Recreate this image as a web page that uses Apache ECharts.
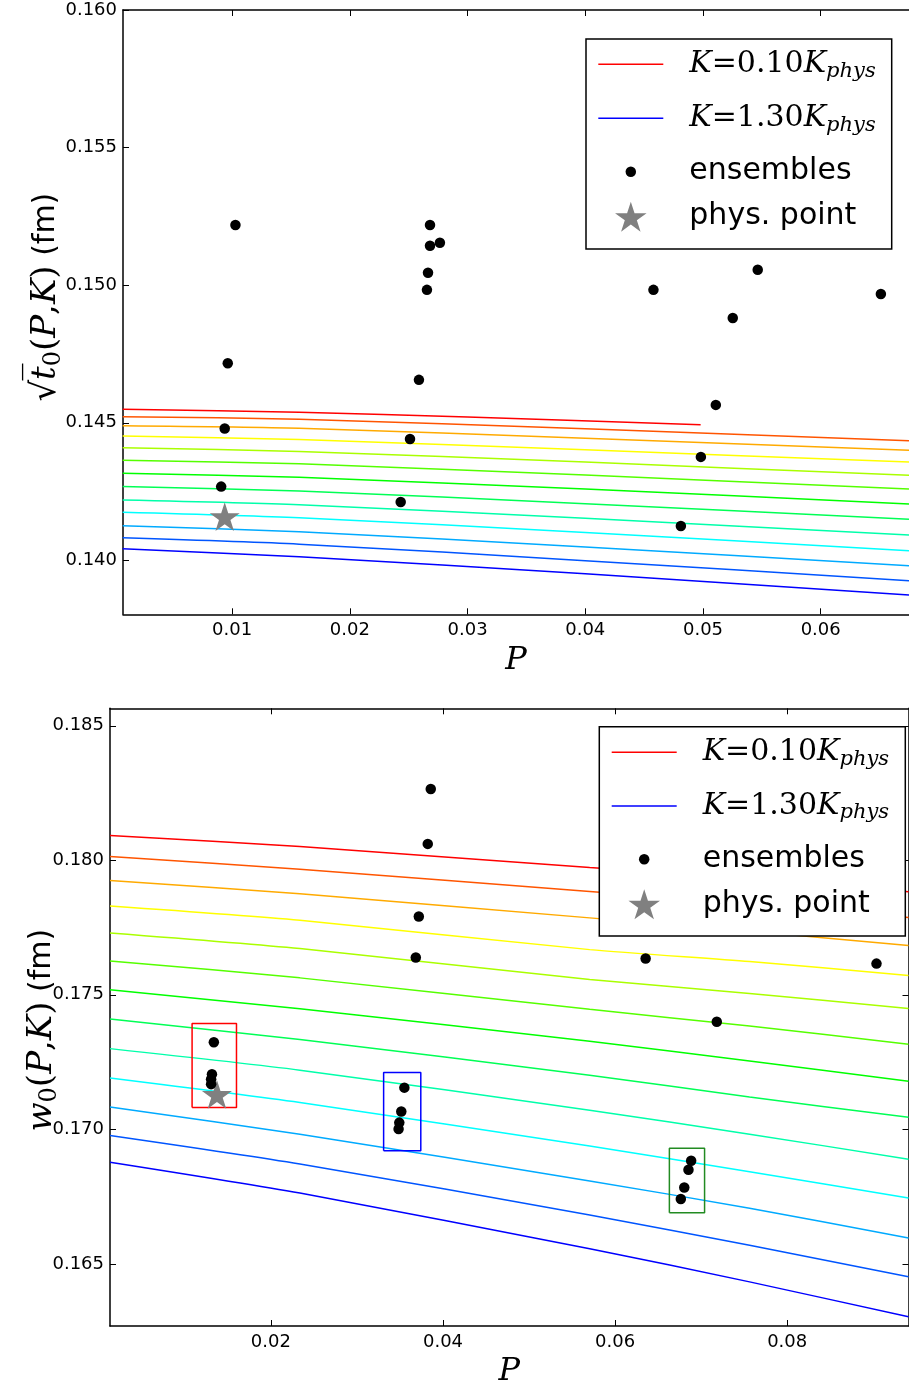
<!DOCTYPE html>
<html><head><meta charset="utf-8">
<script src="https://cdn.jsdelivr.net/npm/echarts@6/dist/echarts.min.js"></script>
<style>html,body{margin:0;padding:0;background:#fff}#c{width:909px;height:1389px}</style>
</head><body><div id="c"></div>
<script>
// ---------- data ----------
const kLabels = ['0.10','0.20','0.30','0.40','0.50','0.60','0.70','0.80','0.90','1.00','1.10','1.20','1.30'];
const lineColors = ['#ff0000','#ff5500','#ffaa00','#ffff00','#aaff00','#55ff00','#00ff00','#00ff55','#00ffaa','#00ffff','#00aaff','#0055ff','#0000ff'];

// top panel: sqrt(t0)
const topTicksX = [0.01,0.02,0.03,0.04,0.05,0.06];
const topTicksY = [0.140,0.145,0.150,0.155,0.160];
const topRedP = [0.0007, 0.0157, 0.030, 0.0498];
const topCurveP = [0.0007, 0.0157, 0.040, 0.0675];
const topCurveY = [
  [0.14549, 0.14538, 0.14521, 0.14493],
  [0.14522, 0.14513, 0.14478, 0.14435],
  [0.14489, 0.14480, 0.14444, 0.14400],
  [0.14452, 0.14439, 0.14402, 0.14357],
  [0.14409, 0.14396, 0.14357, 0.14309],
  [0.14364, 0.14351, 0.14310, 0.14259],
  [0.14317, 0.14302, 0.14259, 0.14205],
  [0.14268, 0.14252, 0.14206, 0.14149],
  [0.14219, 0.14202, 0.14153, 0.14092],
  [0.14175, 0.14155, 0.14101, 0.14035],
  [0.14126, 0.14104, 0.14049, 0.13980],
  [0.14082, 0.14059, 0.13999, 0.13926],
  [0.14042, 0.14013, 0.13951, 0.13874]
];
const topEnsP = [0.01028,0.00963,0.00937,0.00907,0.02432,0.02511,0.02587,0.02655,0.02664,0.02681,0.02681,0.02765,0.04579,0.04812,0.04982,0.05109,0.05253,0.05465,0.06511];
const topEnsY = [0.15219,0.14716,0.14479,0.14268,0.14212,0.14441,0.14656,0.14983,0.15045,0.15143,0.15219,0.15154,0.14983,0.14125,0.14376,0.14565,0.14881,0.15056,0.14968];
const topPhys = [0.00937, 0.14159];

// bottom panel: w0
const botTicksX = [0.02,0.04,0.06,0.08];
const botTicksY = [0.165,0.170,0.175,0.180,0.185];
const botCurveP = [0.0013, 0.02337, 0.05705, 0.07563, 0.0941];
const botCurveY = [
  [0.18092, 0.18051, 0.17973, 0.17932, 0.17883],
  [0.18014, 0.17967, 0.17884, 0.17839, 0.17787],
  [0.17925, 0.17876, 0.17786, 0.17737, 0.17683],
  [0.17830, 0.17777, 0.17668, 0.17624, 0.17572],
  [0.17730, 0.17672, 0.17557, 0.17505, 0.17449],
  [0.17626, 0.17563, 0.17446, 0.17384, 0.17316],
  [0.17519, 0.17448, 0.17327, 0.17254, 0.17179],
  [0.17410, 0.17334, 0.17201, 0.17120, 0.17045],
  [0.17300, 0.17220, 0.17071, 0.16982, 0.16889],
  [0.17191, 0.17100, 0.16938, 0.16842, 0.16745],
  [0.17083, 0.16982, 0.16808, 0.16707, 0.16596],
  [0.16977, 0.16871, 0.16682, 0.16569, 0.16452],
  [0.16878, 0.16763, 0.16556, 0.16433, 0.16303]
];
const botEnsP = [0.03858,0.03823,0.03719,0.03684,0.06355,0.09038,0.07182,0.01337,0.01315,0.01305,0.01305,0.03551,0.03515,0.03492,0.03484,0.06884,0.06853,0.06804,0.06764];
const botEnsY = [0.18265,0.18061,0.17791,0.17639,0.17635,0.17616,0.17400,0.17324,0.17205,0.17186,0.17168,0.17155,0.17066,0.17025,0.17001,0.16883,0.16850,0.16784,0.16741];
const botPhys = [0.01373, 0.17130];
const boxP0 = [0.01084, 0.03310, 0.06631];
const boxP1 = [0.01600, 0.03742, 0.07040];
const boxY0 = [0.17081, 0.16920, 0.16690];
const boxY1 = [0.17393, 0.17211, 0.16930];
const boxColors = ['#ff0000', '#0000ff', '#228b22'];

// ---------- styles ----------
const STAR = 'path://M100,0 L122.45,69.1 L195.11,69.1 L136.33,111.8 L158.78,180.9 L100,138.2 L41.22,180.9 L63.67,111.8 L4.89,69.1 L77.55,69.1 Z';
const SANS = 'DejaVu Sans';
const SERIF = 'DejaVu Serif';
const tickFont = {fontFamily: SANS, fontSize: 18, color: '#000'};
const mathRich = {
  it: {fontFamily: SERIF, fontStyle: 'italic', fontSize: 30, lineHeight: 40, color: '#000'},
  rm: {fontFamily: SERIF, fontSize: 30, lineHeight: 40, color: '#000'},
  sub: {fontFamily: SERIF, fontStyle: 'italic', fontSize: 21, lineHeight: 21, padding: [14, 0, 0, 0], color: '#000'},
  sf: {fontFamily: SANS, fontSize: 30, lineHeight: 40, color: '#000'}
};
const nameRich = {
  it: {fontFamily: SERIF, fontStyle: 'italic', fontSize: 34, lineHeight: 44, color: '#000'},
  rm: {fontFamily: SERIF, fontSize: 34, lineHeight: 44, color: '#000'},
  sub0: {fontFamily: SERIF, fontSize: 24, lineHeight: 24, padding: [16, 0, 0, 0], color: '#000'},
  sf: {fontFamily: SANS, fontSize: 30, lineHeight: 44, color: '#000'}
};
function kName(k) { return 'K=' + k + 'K_phys'; }
function legendText(name) {
  if (name.indexOf('K=') === 0) {
    const k = name.slice(2, name.indexOf('K_'));
    return '{it|K}{rm|=' + k + '}{it|K}{sub|phys}';
  }
  return '{sf|' + name + '}';
}

function xAxisPair(gi, min, max, ticks) {
  const common = {type: 'value', gridIndex: gi, min: min, max: max, splitLine: {show: false},
    axisLine: {show: true, onZero: false, lineStyle: {color: '#000', width: 1.5}}};
  return [
    Object.assign({}, common, {position: 'bottom',
      axisTick: {show: true, inside: true, length: 6, customValues: ticks, lineStyle: {color: '#000', width: 1}},
      axisLabel: Object.assign({customValues: ticks, margin: 7, formatter: v => v.toFixed(2)}, tickFont),
      name: '{it|P}', nameLocation: 'middle', nameGap: 30, nameMoveOverlap: false,
      nameTextStyle: {rich: {it: {fontFamily: SERIF, fontStyle: 'italic', fontSize: 32, color: '#000'}}}}),
    Object.assign({}, common, {position: 'top',
      axisTick: {show: true, inside: true, length: 6, customValues: ticks, lineStyle: {color: '#000', width: 1}},
      axisLabel: {show: false}})
  ];
}

const xAxes = [].concat(
  xAxisPair(0, 0.00073, 0.0675, topTicksX),
  xAxisPair(1, 0.0013, 0.0941, botTicksX)
);
const yAxes = [
  {type: 'value', gridIndex: 0, position: 'left', min: 0.13804, max: 0.160, splitLine: {show: false},
   axisLine: {show: true, lineStyle: {color: '#000', width: 1.5}},
   axisTick: {show: true, inside: true, length: 6, customValues: topTicksY, lineStyle: {color: '#000', width: 1}},
   axisLabel: Object.assign({customValues: topTicksY, margin: 6, formatter: v => v.toFixed(3)}, tickFont),
   name: '{rm|\u221A}{it|t\u0305}{sub0|0}{rm|(}{it|P}{rm|,}{it|K}{rm|)}{sf| (fm)}',
   nameLocation: 'middle', nameRotate: 90, nameGap: 55, nameMoveOverlap: false,
   nameTextStyle: {rich: nameRich, padding: [0, 0, 0, 30]}},
  {type: 'value', gridIndex: 1, position: 'left', min: 0.16269, max: 0.18565, splitLine: {show: false},
   axisLine: {show: true, lineStyle: {color: '#000', width: 1.5}},
   axisTick: {show: true, inside: true, length: 6, customValues: botTicksY, lineStyle: {color: '#000', width: 1}},
   axisLabel: Object.assign({customValues: botTicksY, margin: 6, formatter: v => v.toFixed(3)}, tickFont),
   name: '{it|w}{sub0|0}{rm|(}{it|P}{rm|,}{it|K}{rm|)}{sf| (fm)}',
   nameLocation: 'middle', nameRotate: 90, nameGap: 46, nameMoveOverlap: false,
   nameTextStyle: {rich: nameRich, padding: [0, 26, 0, 0]}},
  {type: 'value', gridIndex: 1, position: 'right', min: 0.16269, max: 0.18565, splitLine: {show: false},
   axisLine: {show: true, lineStyle: {color: '#000', width: 1.5}},
   axisTick: {show: true, inside: true, length: 6, customValues: botTicksY, lineStyle: {color: '#000', width: 1}},
   axisLabel: {show: false}}
];

const series = [];
function addCurves(pArr, curves, xi, yi, redP) {
  curves.forEach((ys, i) => {
    const ps = (i === 0 && redP) ? redP : pArr;
    series.push({type: 'line', name: kName(kLabels[i]), xAxisIndex: xi, yAxisIndex: yi,
      data: ps.map((p, j) => [p, ys[j]]), symbol: 'none', showSymbol: false,
      smooth: 0.25, silent: true, z: 2,
      lineStyle: {color: lineColors[i], width: 1.5}, itemStyle: {color: lineColors[i]}});
  });
}
addCurves(topCurveP, topCurveY, 0, 0, topRedP);
addCurves(botCurveP, botCurveY, 2, 1, null);

boxP0.forEach((x0, i) => {
  const x1 = boxP1[i], y0 = boxY0[i], y1 = boxY1[i];
  series.push({type: 'line', name: 'box' + i, xAxisIndex: 2, yAxisIndex: 1, symbol: 'none', silent: true, z: 3,
    data: [[x0, y0], [x1, y0], [x1, y1], [x0, y1], [x0, y0]],
    lineStyle: {color: boxColors[i], width: 1.5}, itemStyle: {color: boxColors[i]}});
});

function addPoints(ensP, ensY, phys, xi, yi) {
  series.push({type: 'scatter', name: 'phys. point', xAxisIndex: xi, yAxisIndex: yi, data: [phys],
    symbol: STAR, symbolSize: 30, symbolKeepAspect: true, silent: true, z: 4,
    itemStyle: {color: '#808080', opacity: 1}});
  series.push({type: 'scatter', name: 'ensembles', xAxisIndex: xi, yAxisIndex: yi,
    data: ensP.map((p, i) => [p, ensY[i]]), symbol: 'circle', symbolSize: 10.5, silent: true, z: 5,
    itemStyle: {color: '#000', opacity: 1}});
}
addPoints(topEnsP, topEnsY, topPhys, 0, 0);
addPoints(botEnsP, botEnsY, botPhys, 2, 1);

// one legend row per entry; "left" is the left edge of the drawn icon
function legendRow(name, left, centerY, itemHeight, icon) {
  return {data: [{name: name, icon: icon}], left: left, top: centerY - 20, orient: 'vertical', padding: 0, itemGap: 0,
    itemWidth: 65, itemHeight: itemHeight, selectedMode: false, z: 60,
    itemStyle: {opacity: 1},
    formatter: legendText,
    textStyle: {color: '#000', lineHeight: 40, padding: [0, 0, 0, 21], rich: mathRich}};
}
const legendNames = [kName('0.10'), kName('1.30'), 'ensembles', 'phys. point'];
const topRowCenters = [64.3, 118.3, 171.7, 216.7];
const botRowCenters = [752.3, 806, 859.3, 904.3];
const legends = [];
[[598.3, topRowCenters], [611.7, botRowCenters]].forEach(([left, c]) => {
  legends.push(legendRow(legendNames[0], left, c[0], 1.5, 'rect'));
  legends.push(legendRow(legendNames[1], left, c[1], 1.5, 'rect'));
  legends.push(legendRow(legendNames[2], left + 32.5 - 5.25, c[2], 10.5, 'circle'));
  legends.push(legendRow(legendNames[3], left + 32.5 - 15.75, c[3], 30, STAR));
});

const chart = echarts.init(document.getElementById('c'), null, {renderer: 'canvas'});
chart.setOption({
  animation: false,
  backgroundColor: '#fff',
  grid: [
    {left: 123, top: 10, width: 788, height: 604.3},
    {left: 110, top: 708.3, width: 798.5, height: 619}
  ],
  xAxis: xAxes,
  yAxis: yAxes,
  legend: legends,
  graphic: [
    {type: 'rect', z: 50, shape: {x: 586, y: 39, width: 305.7, height: 210}, style: {fill: '#fff', stroke: '#000', lineWidth: 1.5}},
    {type: 'rect', z: 50, shape: {x: 599.3, y: 726.7, width: 306, height: 209.3}, style: {fill: '#fff', stroke: '#000', lineWidth: 1.5}}
  ],
  series: series
});
</script></body></html>
